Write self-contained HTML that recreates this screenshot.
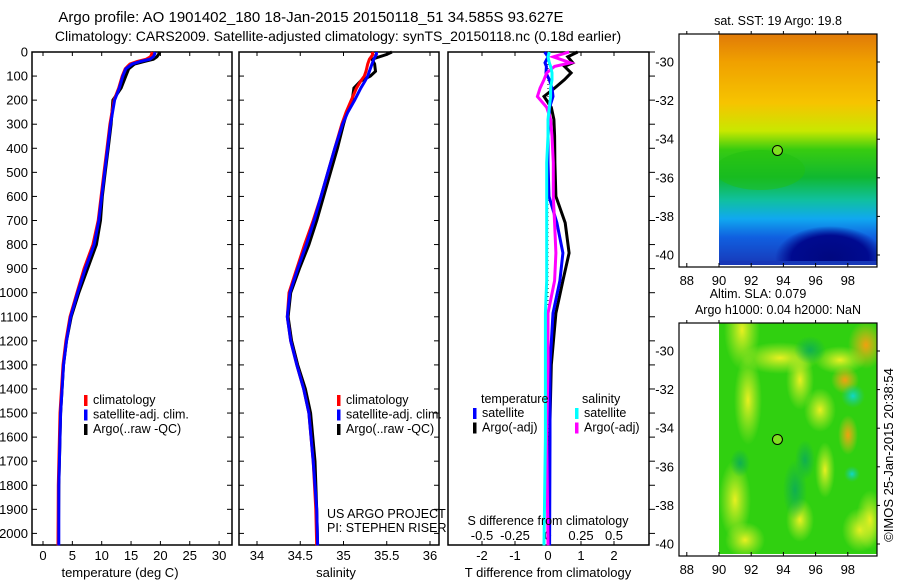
<!DOCTYPE html>
<html><head><meta charset="utf-8"><style>
html,body{margin:0;padding:0;background:#fff;width:900px;height:580px;overflow:hidden}
svg{display:block;font-family:"Liberation Sans",sans-serif;font-size:12.5px}
</style></head><body>
<svg id="c" width="900" height="580" xmlns="http://www.w3.org/2000/svg">
<defs>
<linearGradient id="sst" x1="0" y1="0" x2="0" y2="1">
<stop offset="0" stop-color="#e07a08"/><stop offset="0.12" stop-color="#f0a000"/><stop offset="0.3" stop-color="#f6c400"/>
<stop offset="0.42" stop-color="#c8e800"/><stop offset="0.5" stop-color="#38cc10"/><stop offset="0.62" stop-color="#10b830"/>
<stop offset="0.72" stop-color="#10c0a0"/><stop offset="0.8" stop-color="#10a8f0"/><stop offset="0.88" stop-color="#1060e0"/><stop offset="1" stop-color="#1838b8"/>
</linearGradient>
<radialGradient id="navy"><stop offset="0" stop-color="#000880"/><stop offset="0.7" stop-color="#000a90"/><stop offset="1" stop-color="#000a90" stop-opacity="0"/></radialGradient>
<radialGradient id="yel"><stop offset="0" stop-color="#e8f020"/><stop offset="1" stop-color="#c8ee30" stop-opacity="0"/></radialGradient>
<radialGradient id="org"><stop offset="0" stop-color="#f0a010"/><stop offset="1" stop-color="#f0c020" stop-opacity="0"/></radialGradient>
<radialGradient id="cy"><stop offset="0" stop-color="#10d8c8"/><stop offset="1" stop-color="#20c890" stop-opacity="0"/></radialGradient>
<radialGradient id="dg"><stop offset="0" stop-color="#10b050"/><stop offset="1" stop-color="#10b050" stop-opacity="0"/></radialGradient>
<clipPath id="clip1"><rect x="719" y="34" width="158" height="231"/></clipPath>
<clipPath id="clip2"><rect x="719" y="323" width="158" height="231"/></clipPath>
</defs>
<g id="root"></g>
</svg>
<script>
// ---- data ----
const depthT=[0,10,20,30,40,50,70,100,150,200,300,400,500,600,700,800,900,1000,1100,1200,1300,1500,1800,2050];
const tClim=[18.6,18.5,18.3,17.6,16.0,14.8,14.0,13.5,12.9,12.1,11.4,10.9,10.4,9.9,9.4,8.5,7.0,5.8,4.6,3.9,3.4,2.9,2.6,2.55];
const tSat=[19.1,19.0,18.8,18.2,16.5,15.2,14.1,13.6,13.0,12.2,11.5,11.0,10.5,10.0,9.5,8.7,7.2,5.9,4.7,4.0,3.5,3.0,2.7,2.7];
const tArgo=[19.9,19.7,19.4,18.8,17.2,15.6,14.6,14.1,13.3,11.9,11.6,11.1,10.6,10.1,9.8,9.1,7.6,6.1,4.8,4.0,3.5,3.0,2.7,2.6];
const depthS=[0,10,30,50,80,100,120,150,200,250,300,400,500,600,700,800,900,1000,1100,1200,1300,1400,1500,1700,1900,2050];
const sClim=[35.33,35.34,35.3,35.28,35.26,35.24,35.2,35.15,35.09,35.03,34.98,34.9,34.82,34.74,34.65,34.55,34.46,34.37,34.35,34.39,34.46,34.54,34.6,34.65,34.68,34.69];
const sSat=[35.38,35.38,35.35,35.33,35.3,35.28,35.25,35.2,35.13,35.05,34.99,34.9,34.82,34.74,34.66,34.57,34.47,34.38,34.35,34.39,34.46,34.54,34.6,34.65,34.69,34.7];
const sArgo=[35.56,35.5,35.33,35.36,35.37,35.31,35.2,35.12,35.1,35.04,35.0,34.93,34.85,34.77,34.69,34.6,34.49,34.39,34.36,34.4,34.47,34.56,34.62,34.67,34.69,34.7];
const depthD=[0,20,45,60,87,115,150,185,230,280,350,460,600,710,835,950,1085,1300,1600,2050];
const dTsat=[-0.1,0.0,-0.09,-0.05,-0.06,0.04,0.12,0.15,0.05,0.03,0.0,0.0,0.03,0.27,0.45,0.36,0.15,0.06,0.06,0.05];
const dTargo=[0.9,0.6,0.75,0.5,0.7,0.5,0.2,-0.12,0.1,0.18,0.2,0.21,0.24,0.52,0.64,0.45,0.24,0.1,0.05,0.03];
const dSsat=[0.01,0.0,0.01,0.02,0.03,0.03,0.02,0.02,0.01,0.0,0.0,-0.01,-0.01,-0.01,-0.01,-0.01,-0.02,-0.02,-0.02,-0.03];
const dSargo=[0.16,0.04,0.17,0.05,-0.01,-0.03,-0.06,-0.08,-0.01,0.02,0.03,0.04,0.04,0.05,0.06,0.05,0.0,0.0,-0.01,0.0];
const depthTicks=[0,100,200,300,400,500,600,700,800,900,1000,1100,1200,1300,1400,1500,1600,1700,1800,1900,2000];
const tTicks=[0,5,10,15,20,25,30];
const sTicks=[34,34.5,35,35.5,36];
const dTTicks=[-2,-1,0,1,2];
const dSTicks=[-0.5,-0.25,0,0.25,0.5];
const lonTicks=[88,90,92,94,96,98];
const latTicks=[-30,-32,-34,-36,-38,-40];

// ---- helpers ----
const NS='http://www.w3.org/2000/svg';
const root=document.getElementById('root');
function el(tag,attrs,parent,text){const e=document.createElementNS(NS,tag);for(const k in attrs)e.setAttribute(k,attrs[k]);if(text!==undefined)e.textContent=text;(parent||root).appendChild(e);return e;}
const TOP=52,BOT=545;
const yD=d=>TOP+d*0.2407;
const xT=v=>43+v*5.87;
const xS=v=>257+(v-34)*86.5;
const xDT=v=>548+v*33;
const xDS=v=>548+v*132;

function panel(name,x0,x1){
  const g=el('g',{});
  
  
  el('rect',{x:x0,y:TOP,width:x1-x0,height:BOT-TOP,fill:'none',stroke:'#000','stroke-width':1.5},g);
  return g;
}
function line(g,xs,ds,xf,color,name,w){
  const p=el('polyline',{points:xs.map((v,i)=>xf(v).toFixed(1)+','+yD(ds[i]).toFixed(1)).join(' '),fill:'none',stroke:color,'stroke-width':w||3,'stroke-linejoin':'miter'},g);
  
  
}
function txt(x,y,s,anchor,parent,name,size){
  const t=el('text',{x:x,y:y,'text-anchor':anchor||'start','font-size':size||12.5},parent,s);
  
  
  return t;
}
function xticks(g,ticks,xf,ylab,name){
  ticks.forEach(v=>{el('line',{x1:xf(v),x2:xf(v),y1:BOT,y2:BOT-4,stroke:'#000'},g);el('line',{x1:xf(v),x2:xf(v),y1:TOP,y2:TOP+4,stroke:'#000'},g);
    txt(xf(v),ylab,String(v),'middle',g,name,13);});
}
function dticks(g,x0,x1){depthTicks.forEach(d=>{el('line',{x1:x0,x2:x0+5,y1:yD(d),y2:yD(d),stroke:'#000'},g);el('line',{x1:x1,x2:x1-5,y1:yD(d),y2:yD(d),stroke:'#000'},g);});}
function legend(g,x,y,items){
  items.forEach((it,i)=>{const yy=y+i*14.5;
    const m=el('rect',{x:x,y:yy-9,width:3.5,height:11,fill:it[1]},g);
    
    
    txt(x+9,yy,it[0],'start',g,'legend-entry');});
}

// titles
txt(311,22,'Argo profile: AO 1901402_180 18-Jan-2015 20150118_51 34.585S 93.627E','middle',root,'chart-title',15);
txt(338,41,'Climatology: CARS2009. Satellite-adjusted climatology: synTS_20150118.nc (0.18d earlier)','middle',root,'chart-subtitle',14);

// depth labels
depthTicks.forEach(d=>txt(28,yD(d)+4.5,String(d),'end',root,'y-tick-label',13));

// panel 1
const p1=panel('temperature-panel',32,232);
dticks(p1,32,232);
xticks(p1,tTicks,xT,560,'x-tick-label');
line(p1,tArgo,depthT,xT,'#000','argo-temperature-line');
line(p1,tClim,depthT,xT,'#f00','climatology-temperature-line');
line(p1,tSat,depthT,xT,'#00f','satellite-temperature-line');
legend(p1,84,404,[['climatology','#f00'],['satellite-adj. clim.','#00f'],['Argo(..raw -QC)','#000']]);
txt(120,577,'temperature (deg C)','middle',p1,'x-axis-title',13);

// panel 2
const p2=panel('salinity-panel',239,439);
dticks(p2,239,439);
xticks(p2,sTicks,xS,560,'x-tick-label');
line(p2,sArgo,depthS,xS,'#000','argo-salinity-line');
line(p2,sClim,depthS,xS,'#f00','climatology-salinity-line');
line(p2,sSat,depthS,xS,'#00f','satellite-salinity-line');
legend(p2,337,404,[['climatology','#f00'],['satellite-adj. clim.','#00f'],['Argo(..raw -QC)','#000']]);
txt(327,518,'US ARGO PROJECT','start',p2,'project-label');
txt(327,532,'PI: STEPHEN RISER','start',p2,'pi-label');
txt(336,577,'salinity','middle',p2,'x-axis-title',13);

// panel 3
const p3=panel('difference-panel',448,649);
depthTicks.forEach(d=>el('line',{x1:649,x2:655,y1:yD(d),y2:yD(d),stroke:'#000'},p3));
dTTicks.forEach(v=>{el('line',{x1:xDT(v),x2:xDT(v),y1:BOT,y2:BOT-4,stroke:'#000'},p3);txt(xDT(v),560,String(v),'middle',p3,'t-diff-tick-label',13);});
dSTicks.forEach(v=>{el('line',{x1:xDS(v),x2:xDS(v),y1:TOP,y2:TOP+4,stroke:'#000'},p3);txt(xDS(v),540,String(v),'middle',p3,'s-diff-tick-label',13);});
el('line',{x1:548,x2:548,y1:TOP,y2:BOT,stroke:'#000','stroke-dasharray':'1,3'},p3);
line(p3,dTargo,depthD,xDT,'#000','argo-t-diff-line');
line(p3,dTsat,depthD,xDT,'#00f','satellite-t-diff-line');
line(p3,dSargo,depthD,xDS,'#f0f','argo-s-diff-line');
line(p3,dSsat,depthD,xDS,'#0ff','satellite-s-diff-line');
txt(481,403,'temperature','start',p3,'legend-title');
txt(582,403,'salinity','start',p3,'legend-title');
legend(p3,473,417,[['satellite','#00f'],['Argo(-adj)','#000']]);
legend(p3,575,417,[['satellite','#0ff'],['Argo(-adj)','#f0f']]);
txt(548,525,'S difference from climatology','middle',p3,'s-axis-title');
txt(548,577,'T difference from climatology','middle',p3,'x-axis-title',13);

// maps
const xL=v=>719+(v-90)*16.1;
function map(name,y0,clip,title1,title2,fill,extra){
  const g=el('g',{});
  
  
  const yLat=v=>y0+28+(-30-v)*19.3;
  const inner=el('g',{'clip-path':'url(#'+clip+')'},g);
  el('rect',{x:719,y:y0,width:158,height:231,fill:fill},inner);
  extra(inner);
  el('rect',{x:679,y:y0,width:198,height:233,fill:'none',stroke:'#000','stroke-width':1.2},g);
  lonTicks.forEach(v=>{el('line',{x1:xL(v),x2:xL(v),y1:y0+233,y2:y0+229,stroke:'#000'},g);el('line',{x1:xL(v),x2:xL(v),y1:y0,y2:y0-3,stroke:'#000'},g);txt(xL(v),y0+251,String(v),'middle',g,'lon-tick-label',13);});
  latTicks.forEach(v=>{el('line',{x1:877,x2:880,y1:yLat(v),y2:yLat(v),stroke:'#000'},g);txt(674,yLat(v)+4.5,String(v),'end',g,'lat-tick-label',13);});
  const c=el('circle',{cx:xL(93.63),cy:yLat(-34.585),r:5,fill:'#80e020',stroke:'#000','stroke-width':1},g);
  
  
  if(title2){txt(758,y0-25,title1,'middle',root,'map-title');txt(778,y0-9,title2,'middle',root,'map-title');}
  else txt(778,y0-9,title1,'middle',root,'map-title');
}
map('sst-map',34,'clip1','sat. SST: 19 Argo: 19.8',null,'url(#sst)',g=>{
  el('ellipse',{cx:830,cy:258,rx:55,ry:32,fill:'url(#navy)'},g);
  el('ellipse',{cx:760,cy:170,rx:45,ry:20,fill:'#20c010',opacity:0.5},g);
  el('rect',{x:719,y:261,width:158,height:4,fill:'#1838b8'},g);
});
map('sla-map',323,'clip2','Altim. SLA: 0.079','Argo h1000: 0.04 h2000: NaN','#30d010',g=>{
  [[742,330,18,40,'yel'],[748,400,14,45,'yel'],[735,500,16,40,'yel'],[780,358,40,16,'yel'],[800,380,14,30,'yel'],[840,360,26,14,'yel'],
   [820,410,16,22,'yel'],[825,470,10,28,'yel'],[800,520,14,22,'yel'],[860,530,18,22,'yel'],[745,540,20,18,'yel'],[870,520,14,30,'yel'],
   [866,345,18,24,'org'],[845,380,14,14,'org'],[848,435,10,20,'org'],[795,490,12,30,'dg'],[810,350,16,14,'dg'],[740,463,10,14,'dg'],[853,396,12,12,'cy'],[852,474,8,8,'cy'],[805,460,10,20,'dg']].forEach(b=>{
    el('ellipse',{cx:b[0],cy:b[1],rx:b[2],ry:b[3],fill:'url(#'+b[4]+')'},g);});
});
const cr=txt(0,0,'©IMOS 25-Jan-2015 20:38:54','middle',root,'copyright-label',13);
cr.setAttribute('transform','translate(893,455) rotate(-90)');
</script>
</body></html>
